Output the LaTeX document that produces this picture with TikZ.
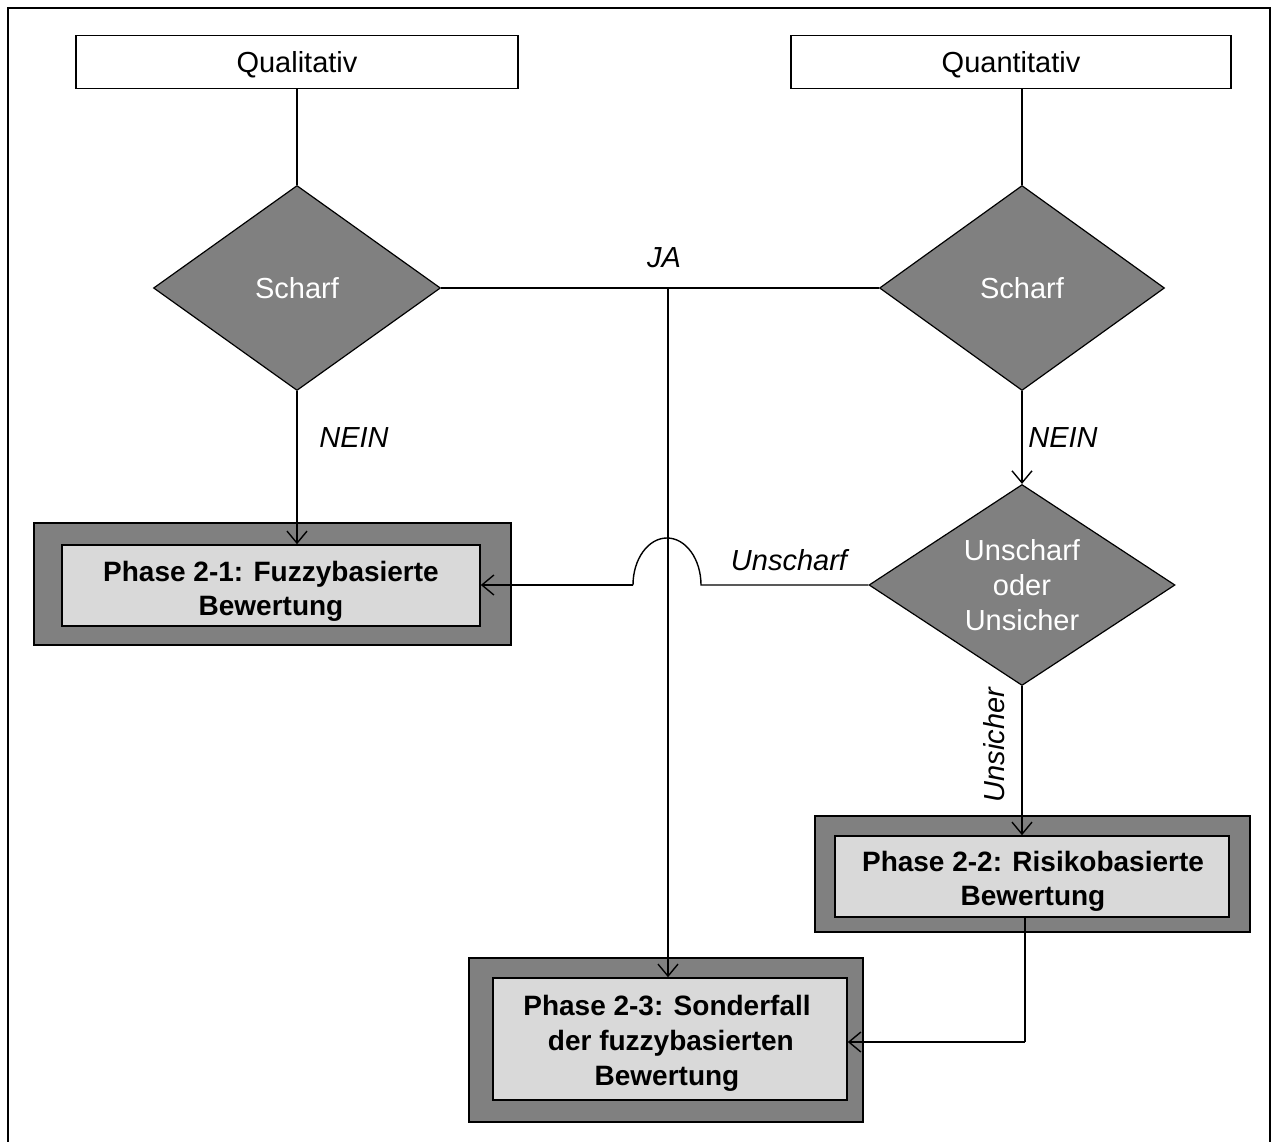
\documentclass[tikz,border=0pt]{standalone}
\usepackage{fontspec}
\setmainfont{Liberation Sans}
\usetikzlibrary{shapes.geometric,arrows.meta,positioning}
\definecolor{darkfill}{HTML}{808080}
\definecolor{lightfill}{HTML}{D9D9D9}
\begin{document}
\begin{tikzpicture}[x=1pt,y=-1pt,
  every node/.style={font=\fontsize{29}{34}\selectfont},
  startbox/.style={draw,line width=1.6pt,fill=white,minimum width=442pt,minimum height=53pt,inner sep=0pt,text height=22pt,text depth=0pt},
  decision/.style={draw,line width=1.2pt,fill=darkfill,diamond,aspect=1.5,text=white,inner sep=0pt,align=center},
  phaseouter/.style={draw,line width=1.6pt,fill=darkfill,inner sep=0pt},
  phaseinner/.style={draw,line width=1.6pt,fill=lightfill,inner sep=0pt},
  phasetext/.style={align=center,font=\fontsize{28}{34}\selectfont\bfseries},
  conn/.style={line width=1.4pt},
  arr/.style={conn,-{Straight Barb[length=12pt,width=20pt,line width=1.4pt]}},
  lbl/.style={font=\fontsize{29}{34}\selectfont\itshape}]
\useasboundingbox (0,0) rectangle (1272,1142);
% page frame (runs past the lower edge)
\begin{scope}
  \clip (0,0) rectangle (1272,1142);
  \draw[line width=2pt] (8,8) rectangle (1270,1160);
\end{scope}

% input boxes
\node[startbox] (qual) at (297,62) {Qualitativ};
\node[startbox,minimum width=440pt] (quant) at (1011,62) {Quantitativ};

% decisions
\node[decision,minimum width=287pt,minimum height=205pt] (d1) at (297,288) {Scharf};
\node[decision,minimum width=285pt,minimum height=205pt] (d2) at (1022,288) {Scharf};
\node[decision,minimum width=306pt,minimum height=201pt,font=\fontsize{29}{35}\selectfont] (d3) at (1022,585) {Unscharf\\oder\\Unsicher};

% phase boxes
\node[phaseouter,minimum width=477pt,minimum height=122pt] (p1o) at (272.5,584) {};
\node[phaseinner,minimum width=418pt,minimum height=81pt] (p1) at (271,585.5) {};
\node[phasetext] (t1) at (271,591) {Phase 2-1: Fuzzybasierte\\Bewertung};
\node[phaseouter,minimum width=435pt,minimum height=116pt] (p2o) at (1032.5,874) {};
\node[phaseinner,minimum width=394pt,minimum height=81pt] (p2) at (1032,876.5) {};
\node[phasetext] (t2) at (1033,881) {Phase 2-2: Risikobasierte\\Bewertung};
\node[phaseouter,minimum width=394pt,minimum height=164pt] (p3o) at (666,1040) {};
\node[phaseinner,minimum width=354pt,minimum height=122pt] (p3) at (670,1039) {};
\node[phasetext,font=\fontsize{28}{35}\selectfont\bfseries] (t3) at (667,1043) {Phase 2-3: Sonderfall\\\ der fuzzybasierten\\Bewertung};

% helper points
\coordinate (ja) at (668,288);
\coordinate (bend) at (1025,1042);
\coordinate (hopR) at (701,585);
\coordinate (hopL) at (633,585);

% connectors
\draw[conn] (qual.south -| d1.north) -- (d1.north);
\draw[conn] (quant.south -| d2.north) -- (d2.north);
\draw[conn] (d1.east) -- (d2.west);
\draw[arr] (ja) -- (ja |- p3.north);
\draw[arr] (d1.south) -- (p1.north -| d1.south);
\draw[arr] (d2.south) -- (d3.north);
\draw[conn] (d3.west) -- (hopR)
  arc[start angle=0,end angle=180,x radius=34pt,y radius=47pt]
  -- (hopL);
\draw[arr] (hopL) -- (p1.east |- hopL);
\draw[arr] (d3.south) -- (p2.north -| d3.south);
\draw[conn] (p2.south -| bend) -- (bend);
\draw[arr] (bend) -- (p3.east |- bend);

% labels
\node[lbl] (lja) at (664,258) {JA};
\node[lbl] (ln1) at (354,438) {NEIN};
\node[lbl] (ln2) at (1063,438) {NEIN};
\node[lbl] (lun) at (789,560) {Unscharf};
\node[lbl,rotate=90] (lus) at (994,745) {Unsicher};
\end{tikzpicture}
\end{document}
